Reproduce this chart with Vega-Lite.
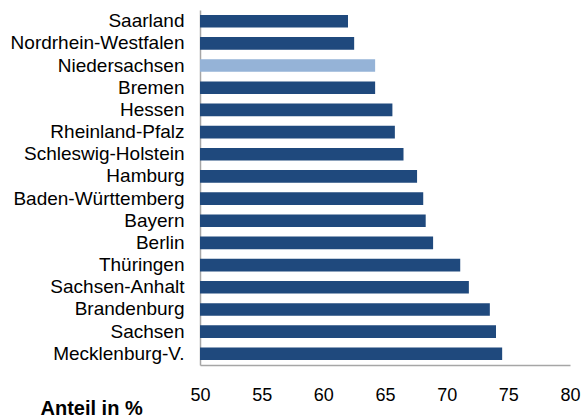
{
  "$schema": "https://vega.github.io/schema/vega-lite/v6.json",
  "autosize": {"type": "none"},
  "width": 370,
  "height": 355,
  "padding": {"left": 200, "top": 10, "right": 14, "bottom": 52},
  "background": "white",
  "config": {
    "view": {"stroke": null},
    "font": "Liberation Sans",
    "axis": {"grid": false, "ticks": false, "domainColor": "#a6a6a6", "domainWidth": 1.5, "labelFont": "Liberation Sans", "labelFontSize": 18, "labelColor": "#000000"}
  },
  "data": {
    "values": [
      {"land": "Saarland", "wert": 62.0, "typ": "a"},
      {"land": "Nordrhein-Westfalen", "wert": 62.5, "typ": "a"},
      {"land": "Niedersachsen", "wert": 64.2, "typ": "b"},
      {"land": "Bremen", "wert": 64.2, "typ": "a"},
      {"land": "Hessen", "wert": 65.6, "typ": "a"},
      {"land": "Rheinland-Pfalz", "wert": 65.8, "typ": "a"},
      {"land": "Schleswig-Holstein", "wert": 66.5, "typ": "a"},
      {"land": "Hamburg", "wert": 67.6, "typ": "a"},
      {"land": "Baden-Württemberg", "wert": 68.1, "typ": "a"},
      {"land": "Bayern", "wert": 68.3, "typ": "a"},
      {"land": "Berlin", "wert": 68.9, "typ": "a"},
      {"land": "Thüringen", "wert": 71.1, "typ": "a"},
      {"land": "Sachsen-Anhalt", "wert": 71.8, "typ": "a"},
      {"land": "Brandenburg", "wert": 73.5, "typ": "a"},
      {"land": "Sachsen", "wert": 74.0, "typ": "a"},
      {"land": "Mecklenburg-V.", "wert": 74.5, "typ": "a"}
    ]
  },
  "mark": {"type": "bar", "clip": true},
  "encoding": {
    "y": {
      "field": "land", "type": "nominal", "sort": null,
      "scale": {"paddingInner": 0.43, "paddingOuter": 0.22},
      "axis": {"title": null, "labelPadding": 16, "labelFontSize": 19, "domain": true}
    },
    "x": {
      "field": "wert", "type": "quantitative",
      "scale": {"domain": [50, 80], "zero": false, "nice": false},
      "axis": {
        "values": [50, 55, 60, 65, 70, 75, 80],
        "labelPadding": 21,
        "labelFlush": false,
        "title": "Anteil in %",
        "titleFont": "Liberation Sans",
        "titleFontSize": 20,
        "titleFontWeight": "bold",
        "titleColor": "#000000",
        "titleX": -160,
        "titleY": 49,
        "titleAlign": "left",
        "titleBaseline": "alphabetic",
        "titleAnchor": "start"
      }
    },
    "color": {
      "field": "typ", "type": "nominal",
      "scale": {"domain": ["a", "b"], "range": ["#1f497d", "#95b3d7"]},
      "legend": null
    }
  }
}
